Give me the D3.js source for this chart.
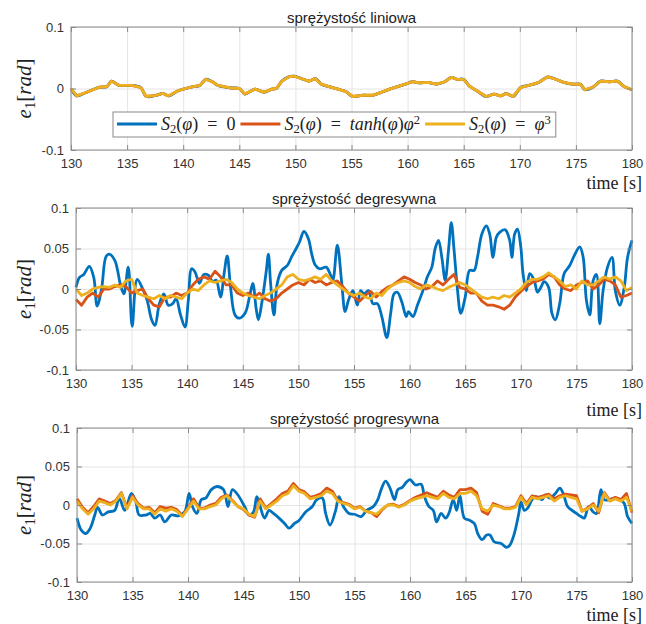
<!DOCTYPE html>
<html>
<head>
<meta charset="utf-8">
<script src="https://cdn.jsdelivr.net/npm/d3@7"></script>
<style>
  body { margin: 0; background: #fff; }
  text { font-family: "Liberation Sans", Arial, sans-serif; }
  .math { font-family: "Liberation Serif", "Times New Roman", serif; }
</style>
</head>
<body>
<svg id="chart" width="646" height="624"></svg>
<script>
// ---- data ----
const timeTicks = [130, 135, 140, 145, 150, 155, 160, 165, 170, 175, 180];
const linTicks = [-0.1, 0, 0.1];
const fineTicks = [-0.1, -0.05, 0, 0.05, 0.1];
const titles = ['sprężystość liniowa', 'sprężystość degresywna', 'sprężystość progresywna'];
const seriesColors = ['#0072BD', '#D95319', '#EDB120'];

// red / yellow series of panels 2 and 3 are read every 0.5 s
const halfSecond = d3.range(130, 180.001, 0.5);

// panel 1: the three responses lie on top of each other
const linBlue = [[130,0],[130.5,-0.012],[131.4,-0.006],[132.5,0.002],[133.2,0.003],[133.6,0.012],[134.3,0.005],
  [135.4,0.005],[136.2,0.002],[136.7,-0.013],[137.6,-0.011],[138.2,-0.008],[138.7,-0.012],[139.5,-0.004],
  [140.2,0],[140.9,0.003],[141.5,0.005],[142,0.015],[142.6,0.011],[143.1,0.005],[144.2,0.001],[145,0],
  [145.5,-0.009],[146.4,-0.001],[147.2,-0.006],[147.9,-0.001],[148.3,0],[148.8,0.012],[149.4,0.019],
  [149.9,0.02],[150.7,0.015],[151.2,0.012],[151.8,0.016],[152.3,0.007],[153,0.003],[153.8,-0.001],
  [154.5,-0.005],[155.1,-0.013],[156,-0.011],[156.9,-0.011],[157.4,-0.008],[158.4,-0.001],[159.1,0.003],
  [159.8,0.007],[160.4,0.011],[161.1,0.009],[161.8,0.01],[162.6,0.007],[163.3,0.011],[163.9,0.018],
  [164.4,0.015],[165,0.015],[165.5,0.004],[166.2,-0.004],[167,-0.013],[167.7,-0.009],[168.3,-0.012],
  [168.8,-0.008],[169.4,-0.013],[170.1,0.002],[170.8,0.005],[171.7,0.01],[172.5,0.019],[173.2,0.015],
  [173.9,0.01],[174.7,0.007],[175.4,0.007],[175.8,-0.002],[176.5,0.002],[177.2,0.012],[178,0.011],
  [178.7,0.012],[179.3,0.003],[180,-0.002]];
const linRed = linBlue;
const linYellow = linBlue;

// panel 2
const degBlue = [[130,0.002],[130.3,0.014],[130.7,0.018],[131.2,0.028],[131.6,0.014],[131.9,-0.021],[132.3,0],
  [132.7,0.04],[133,0.043],[133.5,0.035],[134,0.005],[134.3,-0.006],[134.7,0.027],[135.05,-0.046],[135.5,0.012],
  [136,0],[136.4,-0.014],[136.8,-0.038],[137.1,-0.045],[137.5,-0.018],[137.9,-0.006],[138.3,-0.02],[138.7,-0.018],
  [139,-0.012],[139.4,-0.032],[139.8,-0.047],[140.1,-0.014],[140.4,0.025],[140.7,0.021],[141.1,0.007],
  [141.5,0.018],[141.9,0.017],[142.3,0.009],[142.6,0.011],[143,-0.01],[143.3,0.017],[143.6,0.041],[143.9,0.002],
  [144.3,-0.032],[144.7,-0.036],[145.2,-0.03],[145.6,-0.01],[145.9,0.007],[146.2,-0.024],[146.4,-0.038],
  [146.7,-0.018],[147.1,0.021],[147.3,0.043],[147.5,0.007],[147.8,-0.032],[148.1,0.007],[148.5,0.023],
  [149,0.029],[149.4,0.04],[149.8,0.05],[150.1,0.058],[150.5,0.071],[150.9,0.062],[151.2,0.043],[151.5,0.03],
  [151.9,0.025],[152.5,0.027],[152.9,0.017],[153.1,0.011],[153.5,0.054],[153.9,0.007],[154.2,-0.028],
  [154.5,-0.014],[154.9,-0.002],[155.3,-0.02],[155.6,-0.002],[155.9,-0.006],[156.3,-0.002],[156.7,-0.018],
  [157.1,-0.018],[157.5,-0.034],[157.95,-0.06],[158.3,-0.03],[158.6,-0.006],[158.9,-0.004],[159.3,-0.016],
  [159.7,-0.034],[159.9,-0.028],[160.3,-0.034],[160.7,-0.02],[161.2,-0.002],[161.6,0.015],[162,0.027],
  [162.3,0.05],[162.6,0.06],[162.9,0.039],[163.2,0.011],[163.5,0.048],[163.75,0.082],[164,0.048],[164.3,0],
  [164.6,-0.03],[165,-0.01],[165.4,0.023],[165.8,0.023],[166.1,0.039],[166.5,0.068],[166.9,0.078],
  [167.2,0.068],[167.5,0.039],[167.8,0.064],[168.1,0.07],[168.6,0.073],[169,0.06],[169.2,0.039],[169.45,0.068],
  [169.7,0.074],[170,0.052],[170.2,0.019],[170.5,-0.002],[170.8,0.019],[171.2,0.011],[171.5,-0.004],
  [171.8,0.002],[172.1,0.009],[172.5,0.002],[172.8,-0.03],[173.1,-0.038],[173.5,-0.018],[173.9,0.019],
  [174.4,0.029],[174.8,0.041],[175.3,0.052],[175.6,0.04],[175.9,-0.014],[176.2,-0.032],[176.5,0.01],
  [176.8,0.018],[177.1,-0.043],[177.4,-0.002],[177.8,0.027],[178.2,0.039],[178.5,-0.002],[178.9,-0.02],
  [179.3,0.002],[179.6,0.039],[180,0.06]];
const degRed = [-0.013,-0.020,-0.010,-0.005,-0.010,0.000,0.000,0.003,0.005,0.003,
  -0.005,-0.002,0.000,-0.012,-0.020,-0.022,-0.010,-0.010,-0.005,-0.008,
  -0.005,0.005,0.012,0.015,0.012,0.022,0.015,0.005,0.005,-0.005,
  -0.008,-0.005,-0.010,-0.005,-0.012,-0.015,-0.012,-0.005,0.000,0.005,
  0.008,0.005,0.012,0.008,0.010,0.005,0.008,0.010,0.003,-0.005,
  -0.010,-0.015,-0.008,-0.003,-0.010,-0.003,0.002,0.005,0.010,0.015,
  0.012,0.008,0.005,0.000,0.003,0.010,0.005,0.012,0.018,0.002,
  0.000,-0.005,-0.005,-0.015,-0.020,-0.020,-0.022,-0.025,-0.020,-0.010,
  -0.003,0.003,0.008,0.010,0.012,0.018,0.015,0.005,0.000,-0.002,
  0.005,0.008,0.010,0.000,0.005,0.012,0.010,0.005,-0.010,-0.008,
  -0.005];
const degYellow = [0.000,-0.008,-0.005,0.000,0.002,0.003,0.002,0.005,0.002,0.010,
  0.012,-0.005,-0.008,-0.010,-0.012,-0.008,-0.012,-0.008,-0.010,-0.012,
  -0.005,0.000,-0.002,0.005,0.010,0.008,0.010,0.012,0.008,0.000,
  -0.005,-0.008,-0.010,-0.012,-0.008,-0.005,0.000,0.005,0.015,0.018,
  0.012,0.010,0.012,0.015,0.012,0.018,0.010,0.005,0.000,-0.005,
  -0.008,-0.005,-0.010,-0.012,-0.005,-0.008,0.000,0.005,0.008,0.010,
  0.008,0.003,0.000,0.005,0.003,0.000,-0.002,0.002,0.005,0.008,
  0.005,0.000,-0.005,-0.010,-0.012,-0.010,-0.012,-0.008,-0.010,-0.005,
  0.000,0.008,0.012,0.012,0.015,0.020,0.015,0.010,0.003,0.005,
  0.000,0.010,0.005,0.005,0.010,0.015,0.012,0.015,0.010,-0.002,
  0.002];

// panel 3
const progBlue = [[130,-0.017],[130.4,-0.033],[130.8,-0.037],[131.2,-0.03],[131.6,-0.013],[131.85,-0.003],
  [132.3,-0.013],[132.8,-0.009],[133.4,-0.007],[133.8,0.009],[134.3,-0.007],[134.9,0.015],[135.3,0.004],
  [135.6,-0.013],[136.2,-0.013],[136.6,-0.011],[137,-0.017],[137.5,-0.013],[137.9,-0.022],[138.5,-0.013],
  [139.1,-0.014],[139.7,-0.009],[140.1,0.015],[140.4,-0.002],[140.8,-0.011],[141.2,0.007],[141.6,0.009],
  [142.1,0.02],[142.6,0.024],[143.2,0.02],[143.6,-0.002],[144,0.02],[144.5,0.013],[145.1,-0.002],
  [145.5,-0.013],[145.9,-0.009],[146.2,0.011],[146.5,-0.002],[146.9,-0.017],[147.3,-0.007],[147.7,-0.011],
  [148.2,-0.017],[148.7,-0.024],[149.1,-0.03],[149.6,-0.024],[150,-0.02],[150.6,-0.009],[151.2,-0.002],
  [151.6,0.007],[152.1,0.009],[152.4,-0.011],[152.8,-0.026],[153.3,-0.007],[153.6,0.011],[154,-0.002],
  [154.5,-0.011],[155,-0.012],[155.6,-0.015],[156.1,-0.007],[156.7,-0.002],[157.1,0.007],[157.4,0.02],
  [157.8,0.031],[158.2,0.022],[158.6,0.007],[158.9,0.02],[159.3,0.023],[159.7,0.03],[160,0.033],
  [160.5,0.026],[161,0.027],[161.3,0.011],[161.7,-0.002],[162.1,-0.007],[162.4,-0.022],[162.8,-0.011],
  [163.2,-0.017],[163.5,-0.011],[163.9,0.007],[164.2,-0.007],[164.5,0.012],[164.9,-0.017],[165.4,-0.02],
  [165.8,-0.024],[166.1,-0.037],[166.5,-0.045],[166.9,-0.039],[167.2,-0.039],[167.6,-0.048],[168.2,-0.05],
  [168.7,-0.055],[169,-0.052],[169.4,-0.037],[169.8,-0.011],[170,0.004],[170.3,-0.007],[170.6,-0.004],
  [171,0.007],[171.3,0.011],[171.9,0.007],[172.2,0.013],[172.6,0.009],[173.1,0.015],[173.5,0.022],
  [173.8,0.015],[174.2,-0.002],[174.6,-0.007],[175,-0.011],[175.4,-0.015],[175.7,-0.017],[176.1,-0.002],
  [176.5,-0.009],[176.8,-0.011],[177.2,0.02],[177.5,0.007],[178,0.007],[178.4,0.009],[178.9,0.007],
  [179.3,0.002],[179.6,-0.015],[180,-0.024]];
const progRed = [0.008,-0.003,-0.010,-0.002,0.008,0.005,0.002,0.006,0.016,-0.004,
  0.012,0.002,-0.004,-0.003,-0.010,-0.002,-0.004,-0.003,-0.006,-0.014,
  -0.004,0.008,-0.004,-0.004,0.000,0.002,0.010,0.013,0.006,-0.002,
  -0.006,-0.013,-0.016,0.008,-0.004,0.002,0.008,0.015,0.018,0.028,
  0.020,0.017,0.010,0.012,0.015,0.022,0.018,0.006,0.003,0.001,
  -0.004,-0.002,-0.008,-0.010,-0.015,-0.006,0.000,0.001,-0.002,0.001,
  0.006,0.010,0.013,0.016,0.013,0.010,0.018,0.013,0.010,0.020,
  0.020,0.022,0.016,-0.008,-0.012,0.002,-0.001,-0.004,-0.004,-0.002,
  0.012,0.002,0.012,0.010,0.012,0.014,0.008,0.012,0.014,0.013,
  0.012,-0.008,-0.004,0.002,-0.010,0.016,0.006,0.010,0.007,0.015,
  -0.010];
const progYellow = [0.005,-0.005,-0.012,-0.005,0.005,0.003,0.000,0.005,0.015,-0.005,
  0.010,0.000,-0.005,-0.005,-0.012,-0.005,-0.008,-0.005,-0.008,-0.015,
  -0.005,0.005,-0.005,-0.005,-0.002,0.000,0.008,0.012,0.005,-0.002,
  -0.005,-0.012,-0.015,0.005,-0.005,0.000,0.005,0.012,0.015,0.025,
  0.018,0.015,0.008,0.010,0.012,0.018,0.015,0.005,0.002,0.000,
  -0.005,-0.003,-0.008,-0.010,-0.012,-0.005,0.000,0.000,-0.003,0.000,
  0.005,0.008,0.010,0.012,0.010,0.008,0.015,0.010,0.008,0.015,
  0.015,0.018,0.012,-0.005,-0.008,0.000,-0.002,-0.005,-0.005,-0.003,
  0.010,0.000,0.010,0.008,0.010,0.012,0.005,0.010,0.012,0.010,
  0.008,-0.008,-0.005,0.000,-0.008,0.015,0.005,0.008,0.005,0.010,
  -0.008];

// legend text pieces (s: style  i = italic, sub / sup = small raised/lowered)
const legendParts = [
  [{t:'S',s:'i'},{t:'2',s:'sub'},{t:'('},{t:'φ',s:'i'},{t:')\u2002=\u20020'}],
  [{t:'S',s:'i'},{t:'2',s:'sub'},{t:'('},{t:'φ',s:'i'},{t:')\u2002=\u2002'},{t:'tanh',s:'i'},{t:'('},{t:'φ',s:'i'},{t:')'},{t:'φ',s:'i'},{t:'2',s:'sup'}],
  [{t:'S',s:'i'},{t:'2',s:'sub'},{t:'('},{t:'φ',s:'i'},{t:')\u2002=\u2002'},{t:'φ',s:'i'},{t:'3',s:'sup'}]
];

const pairs = vals => vals.map((v, i) => [halfSecond[i], v]);

const panels = [
  { box: {l: 71, r: 632, t: 27, b: 150}, ticks: linTicks, titleY: 23, xlabY: 189,
    series: [linBlue, linRed, linYellow], legend: true },
  { box: {l: 76, r: 632, t: 208, b: 370}, ticks: fineTicks, titleY: 204, xlabY: 416,
    series: [degBlue, pairs(degRed), pairs(degYellow)] },
  { box: {l: 77, r: 632, t: 428, b: 582}, ticks: fineTicks, titleY: 424, xlabY: 621,
    series: [progBlue, pairs(progRed), pairs(progYellow)] }
];

const svg = d3.select('#chart');
const axisColor = '#8a8a8a';
const labelColor = '#333';

function addRich(textSel, parts, size) {
  parts.forEach(p => {
    const ts = textSel.append('tspan').text(p.t);
    if (p.s === 'i') ts.attr('font-style', 'italic');
    if (p.s === 'sub') ts.attr('font-size', size * 0.7).attr('baseline-shift', '-25%');
    if (p.s === 'sup') ts.attr('font-size', size * 0.7).attr('baseline-shift', '45%');
  });
}

panels.forEach((p, k) => {
  const w = p.box.r - p.box.l, h = p.box.b - p.box.t;
  const x = d3.scaleLinear().domain([130, 180]).range([0, w]);
  const y = d3.scaleLinear().domain([-0.1, 0.1]).range([h, 0]);
  const g = svg.append('g').attr('transform', `translate(${p.box.l},${p.box.t})`);

  // grid
  g.append('g').attr('transform', `translate(0,${h})`)
    .call(d3.axisBottom(x).tickValues(timeTicks).tickSize(-h).tickFormat(''))
    .call(s => s.select('.domain').remove())
    .call(s => s.selectAll('line').attr('stroke', '#e4e4e4'));
  g.append('g')
    .call(d3.axisLeft(y).tickValues(p.ticks).tickSize(-w).tickFormat(''))
    .call(s => s.select('.domain').remove())
    .call(s => s.selectAll('line').attr('stroke', '#e4e4e4'));

  // lines
  const line = d3.line().x(d => x(d[0])).y(d => y(d[1]));
  p.series.forEach((data, i) => {
    g.append('path').datum(data)
      .attr('fill', 'none')
      .attr('stroke', seriesColors[i])
      .attr('stroke-width', 2.8)
      .attr('stroke-linejoin', 'round')
      .attr('d', line.curve(i === 0 ? d3.curveCatmullRom : d3.curveLinear));
  });

  // axes with inward ticks on all four sides
  const styleAxis = s => {
    s.select('.domain').remove();
    s.selectAll('line').attr('stroke', axisColor);
    s.selectAll('text').attr('fill', labelColor).attr('font-size', 13)
      .attr('font-family', '"Liberation Sans", Arial, sans-serif');
  };
  g.append('g').attr('transform', `translate(0,${h})`)
    .call(d3.axisBottom(x).tickValues(timeTicks).tickSize(-5).tickPadding(9))
    .call(styleAxis);
  g.append('g')
    .call(d3.axisTop(x).tickValues(timeTicks).tickSize(-5).tickFormat(''))
    .call(styleAxis);
  g.append('g')
    .call(d3.axisLeft(y).tickValues(p.ticks).tickSize(-5).tickPadding(7).tickFormat(d => String(d)))
    .call(styleAxis);
  g.append('g').attr('transform', `translate(${w},0)`)
    .call(d3.axisRight(y).tickValues(p.ticks).tickSize(-5).tickFormat(''))
    .call(styleAxis);
  g.append('rect').attr('width', w).attr('height', h)
    .attr('fill', 'none').attr('stroke', axisColor).attr('stroke-width', 1);

  // title
  svg.append('text').attr('x', (p.box.l + p.box.r) / 2).attr('y', p.titleY)
    .attr('text-anchor', 'middle').attr('font-size', 15).attr('fill', '#222')
    .text(titles[k]);

  // x label
  svg.append('text').attr('class', 'math').attr('x', 642).attr('y', p.xlabY)
    .attr('text-anchor', 'end').attr('font-size', 18).attr('fill', '#222')
    .text('time [s]');

  // y label
  const yl = svg.append('text').attr('class', 'math')
    .attr('transform', `translate(31,${(p.box.t + p.box.b) / 2}) rotate(-90)`)
    .attr('text-anchor', 'middle').attr('font-size', 21).attr('fill', '#222');
  addRich(yl, [{t:'e',s:'i'},{t:'1',s:'sub'},{t:'['},{t:'rad',s:'i'},{t:']'}], 21);

  // legend
  if (p.legend) {
    const lg = svg.append('g');
    const box = lg.append('rect').attr('fill', '#fff').attr('stroke', axisColor);
    let cx = 117;
    const cy = 124;
    legendParts.forEach((parts, i) => {
      lg.append('line').attr('x1', cx).attr('x2', cx + 40).attr('y1', cy).attr('y2', cy)
        .attr('stroke', seriesColors[i]).attr('stroke-width', 2.8);
      const t = lg.append('text').attr('class', 'math').attr('x', cx + 44).attr('y', cy + 6)
        .attr('font-size', 18).attr('fill', '#222');
      addRich(t, parts, 18);
      cx += 44 + t.node().getComputedTextLength() + 5;
    });
    box.attr('x', 113).attr('y', 112).attr('width', cx - 113).attr('height', 25);
  }
});
</script>
</body>
</html>
